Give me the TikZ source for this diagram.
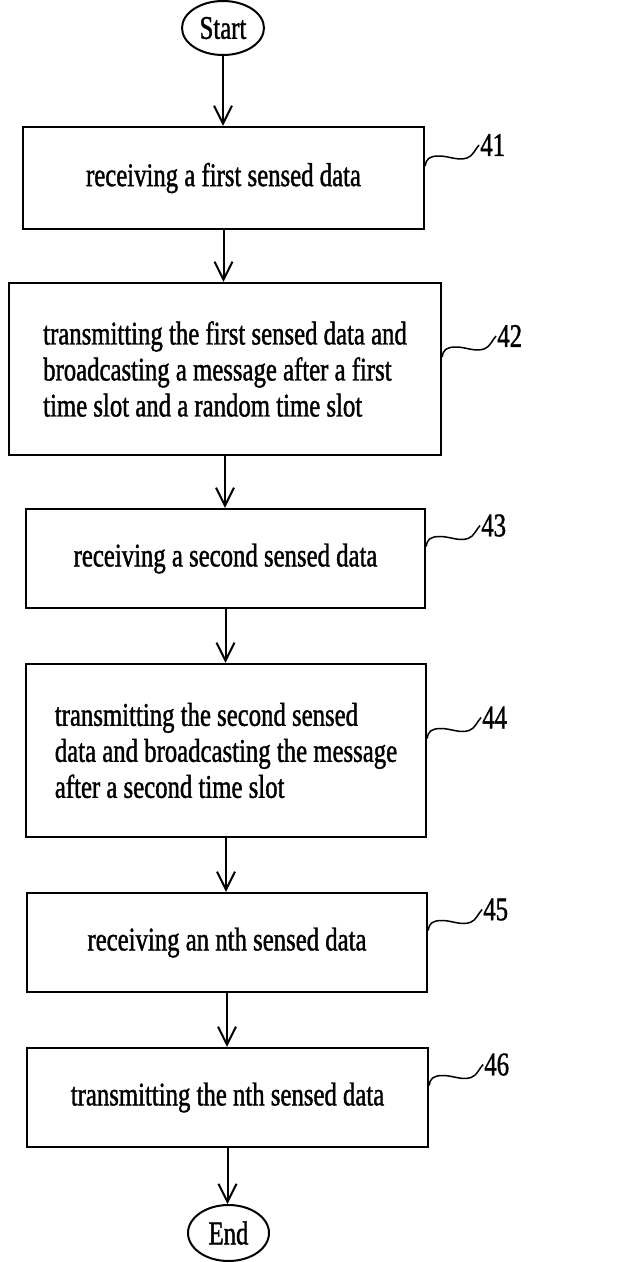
\documentclass[tikz,border=0pt]{standalone}
\usepackage{fontspec}
\setmainfont{Liberation Serif}[FakeStretch=0.75,FakeBold=1.2]
\usetikzlibrary{shapes.geometric,arrows.meta}

\tikzset{
  stepbox/.style={draw,line width=2.2pt,rectangle,inner sep=0pt,align=left},
  term/.style={draw,line width=2pt,ellipse,inner sep=0pt,minimum width=82pt,minimum height=54pt},
  flow/.style={line width=2pt,-{Straight Barb[length=18pt,width=18pt]}},
  leader/.style={line width=1.5pt},
  num/.style={inner sep=1pt,anchor=west},
}

\begin{document}
\begin{tikzpicture}[x=1pt,y=-1pt,font=\fontsize{33}{36}\selectfont]
\useasboundingbox (0,0) rectangle (637,1262);
% terminals and steps
\node[term] (start) at (223,28) {Start};
\node[stepbox,minimum width=401pt,minimum height=102pt] (b41) at (223.5,178) {receiving a first sensed data};
\node[stepbox,minimum width=432pt,minimum height=172pt] (b42) at (225,369)
  {transmitting the first sensed data and\\broadcasting a message after a first\\time slot and a random time slot};
\node[stepbox,minimum width=399pt,minimum height=99pt] (b43) at (225.5,558.5) {receiving a second sensed data};
\node[stepbox,minimum width=400pt,minimum height=173pt] (b44) at (226,750.5)
  {transmitting the second sensed\\data and broadcasting the message\\after a second time slot};
\node[stepbox,minimum width=400pt,minimum height=99pt] (b45) at (227,942.5) {receiving an nth sensed data};
\node[stepbox,minimum width=401pt,minimum height=99pt] (b46) at (227.5,1097.5) {transmitting the nth sensed data};
\node[term,minimum width=81pt,minimum height=56pt] (end) at (228.5,1233) {End};

% arrows
\draw[flow] (start.south) -- (start.south |- b41.north);
\draw[flow] (b41.south) -- (b41.south |- b42.north);
\draw[flow] (b42.south) -- (b42.south |- b43.north);
\draw[flow] (b43.south) -- (b43.south |- b44.north);
\draw[flow] (b44.south) -- (b44.south |- b45.north);
\draw[flow] (b45.south) -- (b45.south |- b46.north);
\draw[flow] (b46.south) -- (b46.south |- end.north);

% reference numerals
\foreach \k in {41,...,46}{
  \coordinate (s\k) at ([yshift=12pt]b\k.east);
  \node[num] (l\k) at ([shift={(54,-21)}]s\k) {\k};
  \draw[leader] (s\k) .. controls ([shift={(1,-7)}]s\k) and ([shift={(4,-10)}]s\k) .. ([shift={(14,-10)}]s\k)
    .. controls ([shift={(24,-10)}]s\k) and ([shift={(32,-5)}]s\k) .. ([shift={(42,-8)}]s\k)
    .. controls ([shift={(48,-10)}]s\k) and ([shift={(50,-17)}]s\k) .. (l\k.west);
}
\end{tikzpicture}
\end{document}
